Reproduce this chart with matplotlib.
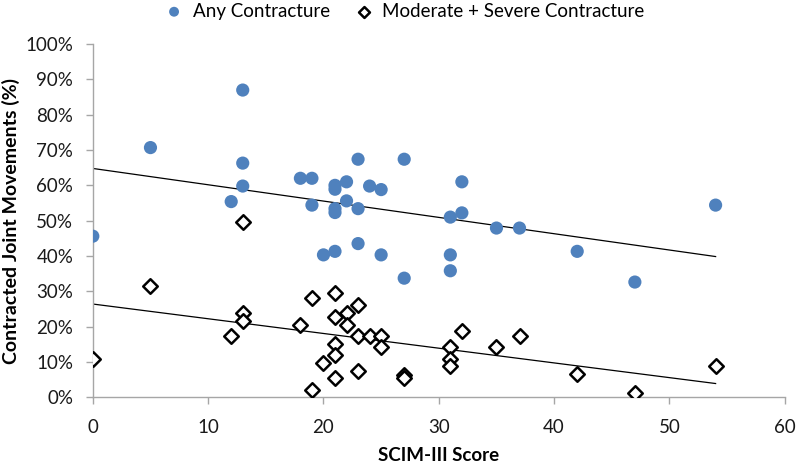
import numpy as np
import matplotlib
matplotlib.use("Agg")
import matplotlib.pyplot as plt

plt.rcParams['font.family'] = ['Lato', 'DejaVu Sans']

# --- data ---
any_x = [0, 5, 12, 13, 13, 13, 18, 19, 19, 20, 21, 21, 21, 21, 21, 22, 22,
         23, 23, 23, 24, 25, 25, 27, 27, 31, 31, 31, 32, 32, 35, 37, 42, 47, 54]
any_y = [45.6, 70.7, 55.4, 87.0, 66.3, 59.8, 62.0, 62.0, 54.4, 40.3, 60.0, 58.9,
         53.4, 52.3, 41.3, 61.0, 55.6, 67.4, 53.4, 43.5, 59.8, 58.8, 40.3, 67.4,
         33.7, 51.0, 40.3, 35.8, 61.0, 52.2, 47.9, 47.9, 41.3, 32.6, 54.4]

mod_x = [0, 5, 12, 13, 13, 13, 18, 19, 19, 20, 21, 21, 21, 21, 21, 22, 22,
         23, 23, 23, 24, 25, 25, 27, 27, 31, 31, 31, 32, 35, 37, 42, 47, 54]
mod_y = [10.9, 31.5, 17.4, 49.6, 23.9, 21.6, 20.5, 28.2, 2.1, 9.6, 29.4, 22.7,
         15.1, 11.8, 5.4, 23.8, 20.5, 26.0, 17.3, 7.5, 17.3, 17.3, 14.1, 6.4,
         5.5, 14.1, 10.9, 8.7, 18.6, 14.1, 17.4, 6.5, 1.1, 8.7]

x_ticks = [0, 10, 20, 30, 40, 50, 60]
y_ticks = list(range(0, 101, 10))

BLUE = '#4F81BD'
GREY = '#A6A6A6'

fig = plt.figure(figsize=(8, 4.65), dpi=100)
ax = fig.add_axes([0.116, 0.146, 0.865, 0.759])

ax.scatter(any_x, any_y, s=90, color=BLUE, edgecolors='none', zorder=3,
           label='Any Contracture')
ax.scatter(mod_x, mod_y, s=55, marker='D', facecolors='white',
           edgecolors='black', linewidths=1.8, zorder=4,
           label='Moderate + Severe Contracture')

# linear trend lines over the data range
for xs, ys in [(any_x, any_y), (mod_x, mod_y)]:
    k, b = np.polyfit(xs, ys, 1)
    xr = np.array([min(xs), max(xs)])
    ax.plot(xr, k * xr + b, color='black', lw=0.9, zorder=2)

ax.set_xlim(0, 60)
ax.set_ylim(0, 100)
ax.set_xticks(x_ticks)
ax.set_yticks(y_ticks)
ax.set_yticklabels([f'{v}%' for v in y_ticks])

for side in ['top', 'right']:
    ax.spines[side].set_visible(False)
for side in ['left', 'bottom']:
    ax.spines[side].set_color(GREY)
    ax.spines[side].set_linewidth(1.0)
ax.tick_params(axis='both', colors=GREY, length=5, width=1.0,
               labelcolor='#1a1a1a', labelsize=13.5)
ax.tick_params(axis='y', pad=9)
ax.tick_params(axis='x', pad=11)

ax.set_xlabel('SCIM-III Score', fontsize=13.5, fontweight='bold', labelpad=8)
ax.set_ylabel('Contracted Joint Movements (%)', fontsize=14,
              fontweight='bold', labelpad=4)

fig.legend(loc='center', bbox_to_anchor=(0.5, 0.976), ncol=2, frameon=False,
           fontsize=13.5, handletextpad=0.0, columnspacing=0.8,
           markerscale=0.75, borderaxespad=0)

fig.savefig('out.png', dpi=100)
